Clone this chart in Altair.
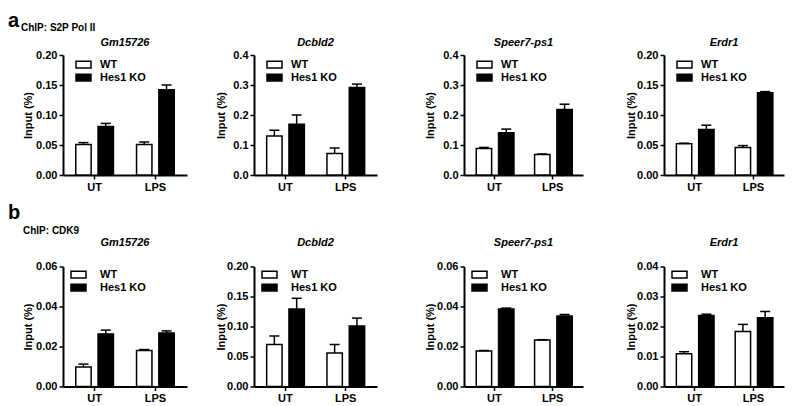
import altair as alt
import pandas as pd

# ---------------- data ----------------
conditions = ["UT", "LPS"]
genotypes = ["WT", "Hes1 KO"]
genes = ["Gm15726", "Dcbld2", "Speer7-ps1", "Erdr1"]
panel_letters = ["a", "b"]
chip_labels = ["ChIP: S2P Pol II", "ChIP: CDK9"]

# bar order per gene: WT/UT, Hes1 KO/UT, WT/LPS, Hes1 KO/LPS
s2p_means = [
    [0.051, 0.081, 0.051, 0.142],
    [0.130, 0.169, 0.072, 0.292],
    [0.088, 0.141, 0.068, 0.218],
    [0.052, 0.076, 0.046, 0.137],
]
s2p_sems = [
    [0.003, 0.005, 0.004, 0.008],
    [0.019, 0.031, 0.018, 0.011],
    [0.004, 0.012, 0.002, 0.018],
    [0.001, 0.007, 0.003, 0.002],
]
cdk9_means = [
    [0.0097, 0.0263, 0.0180, 0.0267],
    [0.070, 0.129, 0.056, 0.101],
    [0.0178, 0.0388, 0.0232, 0.0353],
    [0.0109, 0.0237, 0.0183, 0.0229],
]
cdk9_sems = [
    [0.0015, 0.0019, 0.0005, 0.0011],
    [0.014, 0.018, 0.014, 0.013],
    [0.0002, 0.0004, 0.0002, 0.0007],
    [0.0007, 0.0004, 0.0024, 0.0021],
]
s2p_ticks = [
    [0, 0.05, 0.10, 0.15, 0.20],
    [0, 0.1, 0.2, 0.3, 0.4],
    [0, 0.1, 0.2, 0.3, 0.4],
    [0, 0.05, 0.10, 0.15, 0.20],
]
cdk9_ticks = [
    [0, 0.02, 0.04, 0.06],
    [0, 0.05, 0.10, 0.15, 0.20],
    [0, 0.02, 0.04, 0.06],
    [0, 0.01, 0.02, 0.03, 0.04],
]
s2p_formats = [".2f", ".1f", ".1f", ".2f"]
cdk9_formats = [".2f", ".2f", ".2f", ".2f"]

# ---------------- style / layout ----------------
FONT = "Liberation Sans"
PANEL_W = [124, 123, 119, 120]
AXIS_EXTENT = [27, 25, 26, 25]
GAPS = [28, 47, 42]
ROW_STYLE = [
    dict(h=120, letter_y=-28, chip_x=-42, chip_y=-24, gene_y=-9,
         leg_x=14.5, leg_y=3.5, leg_off=10.5),
    dict(h=120, letter_y=-48, chip_x=-40, chip_y=-33, gene_y=-21,
         leg_x=9.5, leg_y=2, leg_off=15.5),
]


def panel(gene, means, sems, ticks, fmt, width, extent, st, letter=None, chip=None):
    df = pd.DataFrame({
        "condition": [c for c in conditions for g in genotypes],
        "genotype": [g for c in conditions for g in genotypes],
        "mean": means,
        "sem": sems,
    })
    base = alt.Chart(df).transform_calculate(upper="datum.mean + datum.sem")
    x = alt.X("condition:N", sort=conditions,
              scale=alt.Scale(paddingInner=0.38, paddingOuter=0.21),
              axis=alt.Axis(title=None, labelAngle=0, labelPadding=2))
    xo = alt.XOffset("genotype:N", sort=genotypes,
                     scale=alt.Scale(paddingInner=0.31, paddingOuter=0))

    def yenc(field):
        return alt.Y(field, type="quantitative",
                     scale=alt.Scale(domain=[0, ticks[-1]], nice=False, zero=True),
                     axis=alt.Axis(title="Input (%)", values=ticks, format=fmt,
                                   minExtent=extent, maxExtent=extent,
                                   titlePadding=3, labelPadding=2))

    bars = base.mark_bar(stroke="black", strokeWidth=1.5).encode(
        x=x, xOffset=xo, y=yenc("mean"),
        fill=alt.Fill("genotype:N", sort=genotypes,
                      scale=alt.Scale(domain=genotypes, range=["white", "black"]),
                      legend=alt.Legend(
                          title=None, orient="none", legendX=st["leg_x"], legendY=st["leg_y"],
                          symbolType="M-1.5,-0.675H1.5V0.675H-1.5Z", symbolSize=100,
                          symbolStrokeColor="black", symbolStrokeWidth=1.5,
                          labelFont=FONT, labelFontSize=11, labelFontWeight="bold",
                          labelColor="black", labelOffset=st["leg_off"],
                          rowPadding=-2, padding=0)),
    )
    rules = base.mark_rule(color="black", strokeWidth=1.5).encode(
        x=x, xOffset=xo, y=yenc("mean"), y2="upper:Q")
    caps = base.mark_tick(color="black", thickness=1.5, size=10, opacity=1).encode(
        x=x, xOffset=xo, y=yenc("upper"))

    gene_text = alt.Chart(alt.Data(values=[{"t": gene}])).mark_text(
        font=FONT, fontSize=11, fontWeight="bold", fontStyle="italic",
        align="center", baseline="alphabetic", color="black",
    ).encode(text="t:N", x=alt.value(width / 2), y=alt.value(st["gene_y"]))

    layers = [bars, rules, caps, gene_text]
    if letter is not None:
        layers.append(alt.Chart(alt.Data(values=[{"t": letter}])).mark_text(
            font=FONT, fontSize=20, fontWeight="bold", align="left",
            baseline="alphabetic", color="black",
        ).encode(text="t:N", x=alt.value(-55), y=alt.value(st["letter_y"])))
        layers.append(alt.Chart(alt.Data(values=[{"t": chip}])).mark_text(
            font=FONT, fontSize=10, fontWeight="bold", align="left",
            baseline="alphabetic", color="black",
        ).encode(text="t:N", x=alt.value(st["chip_x"]), y=alt.value(st["chip_y"])))
    return alt.layer(*layers).properties(width=width, height=st["h"])


def indep(c):
    return c.resolve_scale(x="independent", y="independent", fill="independent").resolve_legend(fill="independent")


def make_row(r, means, sems, ticks, fmts):
    st = ROW_STYLE[r]
    ps = []
    for i in range(4):
        ps.append(panel(genes[i], means[i], sems[i], ticks[i], fmts[i], PANEL_W[i],
                        AXIS_EXTENT[i], st,
                        letter=panel_letters[r] if i == 0 else None,
                        chip=chip_labels[r] if i == 0 else None))
    c34 = indep(alt.hconcat(ps[2], ps[3], spacing=GAPS[2]))
    c234 = indep(alt.hconcat(ps[1], c34, spacing=GAPS[1]))
    return indep(alt.hconcat(ps[0], c234, spacing=GAPS[0]))


row_a = make_row(0, s2p_means, s2p_sems, s2p_ticks, s2p_formats)
row_b = make_row(1, cdk9_means, cdk9_sems, cdk9_ticks, cdk9_formats)

chart = indep(alt.vconcat(row_a, row_b, spacing=10.5)).properties(
    padding={"left": 0, "top": 3, "right": 2, "bottom": 0},
    background="white",
).configure_view(stroke=None).configure_axis(
    domainColor="black", domainWidth=2, tickColor="black", tickWidth=1.5, tickSize=4,
    labelFont=FONT, labelFontSize=11, labelFontWeight="bold", labelColor="black",
    titleFont=FONT, titleFontSize=11, titleFontWeight="bold", titleColor="black",
    grid=False,
)

chart.save("out.html", embed_options={"renderer": "svg", "actions": False})
